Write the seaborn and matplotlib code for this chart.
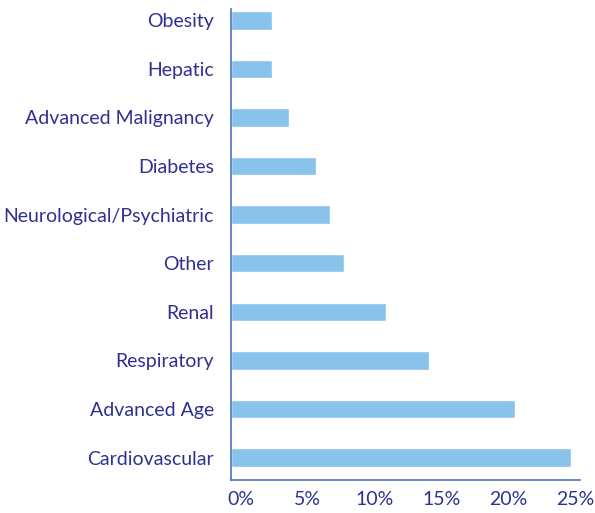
import matplotlib
matplotlib.use("Agg")
import matplotlib.pyplot as plt
import matplotlib.transforms as mtransforms
import seaborn as sns
import pandas as pd

categories = ["Obesity", "Hepatic", "Advanced Malignancy", "Diabetes",
              "Neurological/Psychiatric", "Other", "Renal", "Respiratory",
              "Advanced Age", "Cardiovascular"]
values = [3.1, 3.1, 4.4, 6.4, 7.4, 8.5, 11.6, 14.8, 21.2, 25.4]
tick_values = [0, 5, 10, 15, 20, 25]
tick_labels = ["0%", "5%", "10%", "15%", "20%", "25%"]

df = pd.DataFrame({"category": categories, "value": values})

sns.set_theme(style="white")
plt.rcParams["font.family"] = ["Lato", "DejaVu Sans"]

text_color = "#2E3192"
bar_color = "#89C2EA"
spine_color = "#4A6FC4"

fig = plt.figure(figsize=(5.95, 5.13), dpi=100)
W, H = 595, 513
ax = fig.add_axes([230.5 / W, (H - 480) / H, (580 - 230.5) / W, (480 - 9) / H])

sns.barplot(data=df, x="value", y="category", order=categories,
            color=bar_color, saturation=1, width=0.38, ax=ax)

px_per_unit = 13.4
ax.set_xlim(0, (580 - 230.5) / px_per_unit)
ax.set_ylim(9 + 0.463, -0.233)

ax.set_xticks(tick_values)
ax.set_xticklabels(tick_labels)
ax.set_xlabel("")
ax.set_ylabel("")

ax.tick_params(axis="both", length=0, labelsize=14, colors=text_color)
ax.tick_params(axis="y", pad=12)
ax.tick_params(axis="x", pad=8)

offset = mtransforms.ScaledTranslation(10 / 100, 0, fig.dpi_scale_trans)
for lbl in ax.get_xticklabels():
    lbl.set_transform(lbl.get_transform() + offset)

for side in ["top", "right"]:
    ax.spines[side].set_visible(False)
for side in ["left", "bottom"]:
    ax.spines[side].set_color(spine_color)
    ax.spines[side].set_linewidth(1.2)

fig.savefig("out.png", dpi=100)
